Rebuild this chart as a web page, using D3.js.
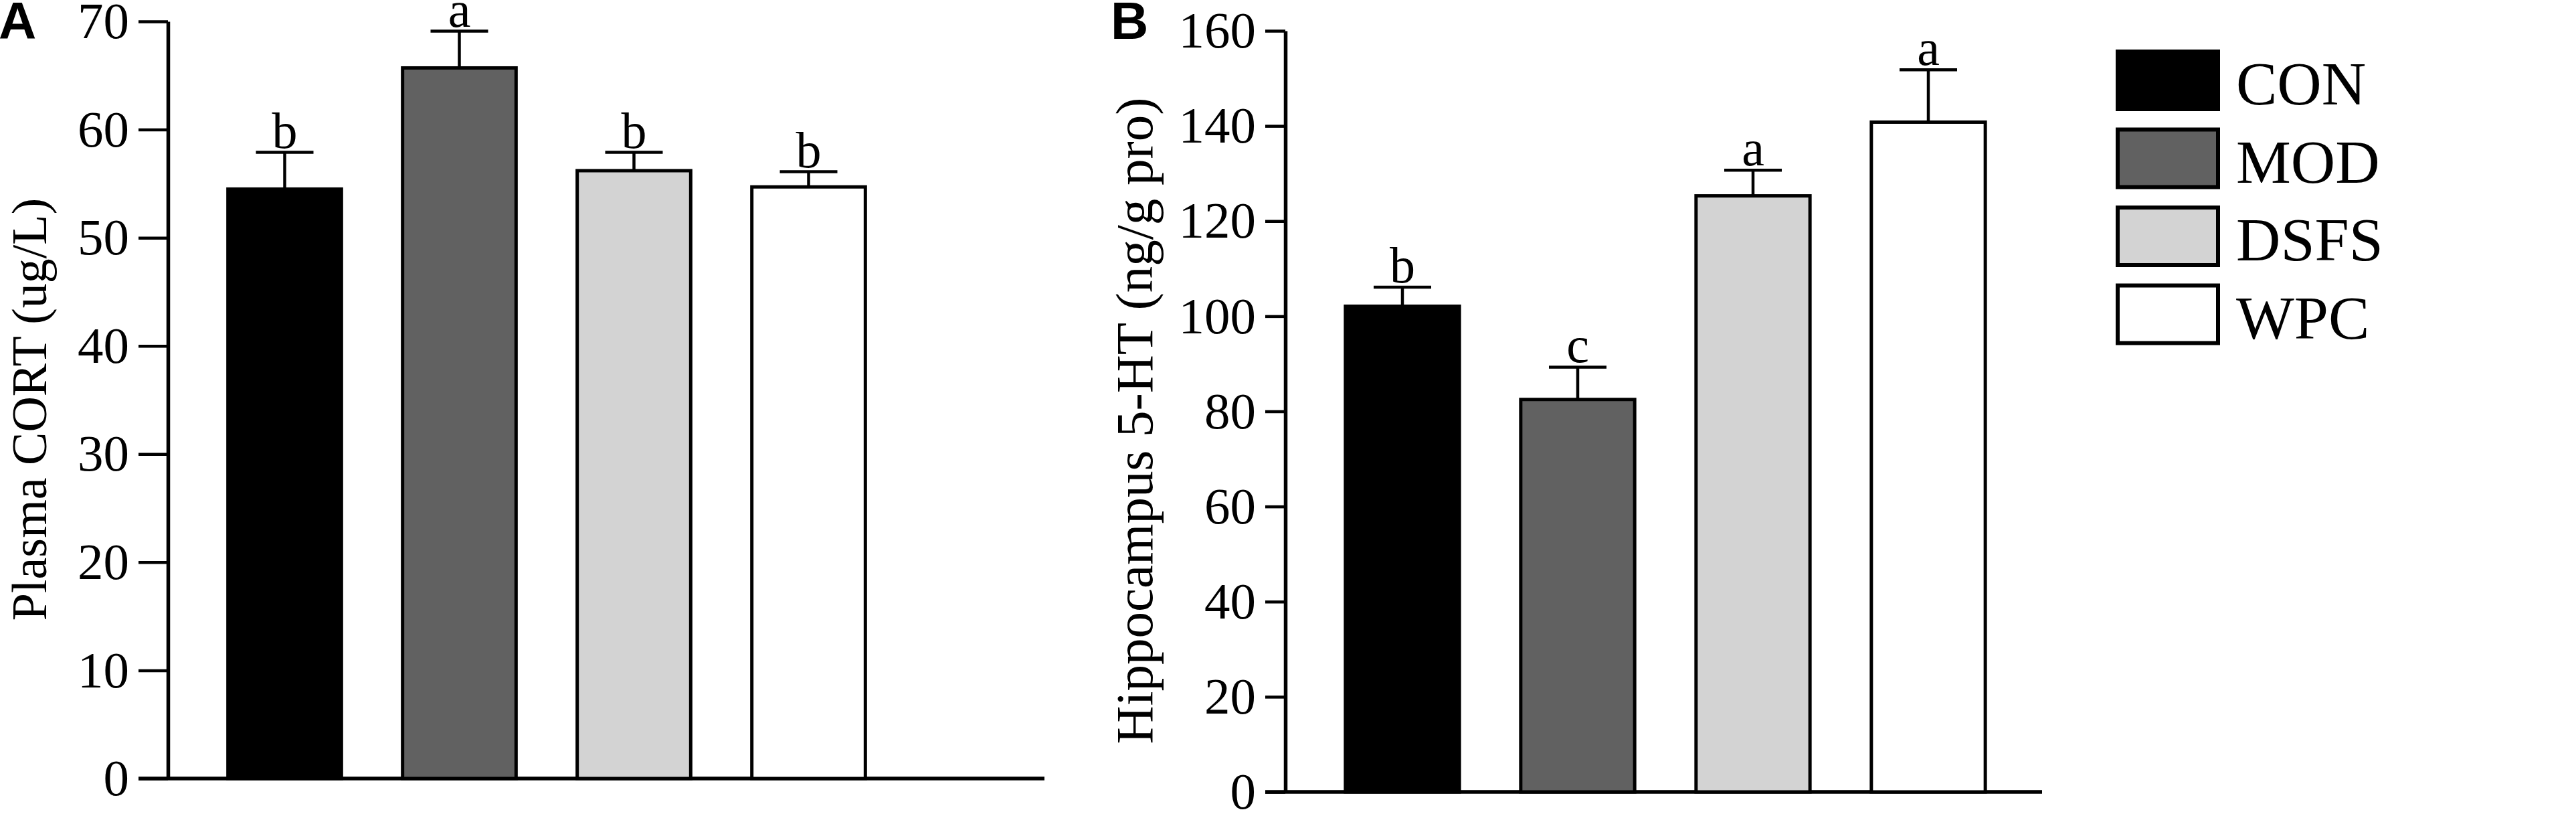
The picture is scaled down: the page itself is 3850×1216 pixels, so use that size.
<!DOCTYPE html>
<html>
<head>
<meta charset="utf-8">
<script src="https://cdn.jsdelivr.net/npm/d3@7"></script>
<style>
  html, body { margin: 0; padding: 0; background: #fff; }
  svg { display: block; }
</style>
</head>
<body>
<div id="chart"></div>
<script>
// groups and values
var groups = ["CON", "MOD", "DSFS", "WPC"];
var groupFills = ["#000000", "#616161", "#d3d3d3", "#ffffff"];

var cortMean = [54.5, 65.7, 56.2, 54.7];
var cortSem = [3.4, 3.4, 1.7, 1.4];
var cortLetters = ["b", "a", "b", "b"];
var cortTicks = [0, 10, 20, 30, 40, 50, 60, 70];

var htMean = [102.1, 82.5, 125.3, 140.8];
var htSem = [4.0, 6.8, 5.4, 11.0];
var htLetters = ["b", "c", "a", "a"];
var htTicks = [0, 20, 40, 60, 80, 100, 120, 140, 160];

var W = 3850, H = 1216;
var serif = "'Liberation Serif', 'Times New Roman', serif";

var svg = d3.select("#chart")
  .append("svg")
  .attr("width", W)
  .attr("height", H);

var color = d3.scaleOrdinal().domain(groups).range(groupFills);

function drawPanel(opt) {
  var g = svg.append("g");

  var x = d3.scaleBand()
    .domain(groups)
    .range(opt.band)
    .paddingInner(0.35)
    .paddingOuter(0.175);

  var y = d3.scaleLinear()
    .domain(opt.domain)
    .range(opt.yRange);

  var rows = groups.map(function (d, i) {
    return { group: d, mean: opt.mean[i], sem: opt.sem[i], letter: opt.letters[i] };
  });

  // x axis baseline, runs from the tick end to the right
  g.append("line")
    .attr("x1", opt.axisX - opt.tickLen)
    .attr("x2", opt.xEnd)
    .attr("y1", y(0))
    .attr("y2", y(0))
    .attr("stroke", "#000")
    .attr("stroke-width", 5.5);

  // bars
  g.selectAll("rect.bar")
    .data(rows)
    .enter()
    .append("rect")
    .attr("class", "bar")
    .attr("x", function (d) { return x(d.group); })
    .attr("width", x.bandwidth())
    .attr("y", function (d) { return y(d.mean); })
    .attr("height", function (d) { return y(0) - y(d.mean); })
    .attr("fill", function (d) { return color(d.group); })
    .attr("stroke", "#000")
    .attr("stroke-width", 5);

  // error bars (upper only)
  g.selectAll("line.err")
    .data(rows)
    .enter()
    .append("line")
    .attr("class", "err")
    .attr("x1", function (d) { return x(d.group) + x.bandwidth() / 2; })
    .attr("x2", function (d) { return x(d.group) + x.bandwidth() / 2; })
    .attr("y1", function (d) { return y(d.mean); })
    .attr("y2", function (d) { return y(d.mean + d.sem); })
    .attr("stroke", "#000")
    .attr("stroke-width", 4.5);

  g.selectAll("line.cap")
    .data(rows)
    .enter()
    .append("line")
    .attr("class", "cap")
    .attr("x1", function (d) { return x(d.group) + x.bandwidth() / 2 - 43; })
    .attr("x2", function (d) { return x(d.group) + x.bandwidth() / 2 + 43; })
    .attr("y1", function (d) { return y(d.mean + d.sem); })
    .attr("y2", function (d) { return y(d.mean + d.sem); })
    .attr("stroke", "#000")
    .attr("stroke-width", 4.5);

  // significance letters
  g.selectAll("text.sig")
    .data(rows)
    .enter()
    .append("text")
    .attr("class", "sig")
    .attr("x", function (d) { return x(d.group) + x.bandwidth() / 2; })
    .attr("y", function (d) { return y(d.mean + d.sem) - 7; })
    .attr("text-anchor", "middle")
    .style("font-family", serif)
    .style("font-size", "76px")
    .text(function (d) { return d.letter; });

  // y axis
  var yAxis = g.append("g")
    .attr("transform", "translate(" + opt.axisX + ",0)")
    .call(d3.axisLeft(y).tickValues(opt.ticks).tickSize(opt.tickLen).tickSizeOuter(0).tickPadding(14));
  yAxis.select(".domain").attr("stroke-width", 5.5);
  yAxis.selectAll(".tick line").attr("stroke-width", 4.5);
  yAxis.selectAll(".tick text")
    .style("font-family", serif)
    .style("font-size", "77px")
    .attr("fill", "#000");

  // y axis title
  g.append("text")
    .attr("transform", "translate(" + opt.titleX + "," + ((opt.yRange[0] + opt.yRange[1]) / 2 + 14) + ") rotate(-90)")
    .attr("text-anchor", "middle")
    .attr("dominant-baseline", "central")
    .style("font-family", serif)
    .style("font-size", opt.titleSize + "px")
    .text(opt.title);

  // panel letter
  g.append("text")
    .attr("x", opt.panelX)
    .attr("y", 58)
    .style("font-family", "'Liberation Sans', Arial, sans-serif")
    .style("font-weight", "bold")
    .style("font-size", "78px")
    .text(opt.panel);
}

drawPanel({
  panel: "A", panelX: -2,
  title: "Plasma CORT (ug/L)", titleX: 44, titleSize: 74,
  mean: cortMean, sem: cortSem, letters: cortLetters, ticks: cortTicks,
  domain: [0, 70], yRange: [1163, 32],
  band: [295, 1339], axisX: 251, tickLen: 44, xEnd: 1561
});

drawPanel({
  panel: "B", panelX: 1660,
  title: "Hippocampus 5-HT (ng/g pro)", titleX: 1695, titleSize: 79,
  mean: htMean, sem: htSem, letters: htLetters, ticks: htTicks,
  domain: [0, 160], yRange: [1183, 46],
  band: [1965, 3013], axisX: 1921, tickLen: 30, xEnd: 3052
});

// legend
var legend = svg.append("g").attr("transform", "translate(3162,74)");
var leg = legend.selectAll("g.item")
  .data(groups)
  .enter()
  .append("g")
  .attr("class", "item")
  .attr("transform", function (d, i) { return "translate(0," + (i * 116.5) + ")"; });

leg.append("rect")
  .attr("x", 3)
  .attr("y", 3)
  .attr("width", 150)
  .attr("height", 86)
  .attr("fill", function (d) { return color(d); })
  .attr("stroke", "#000")
  .attr("stroke-width", 6);

leg.append("text")
  .attr("x", 180)
  .attr("y", 82)
  .style("font-family", serif)
  .style("font-size", "92px")
  .text(function (d) { return d; });
</script>
</body>
</html>
